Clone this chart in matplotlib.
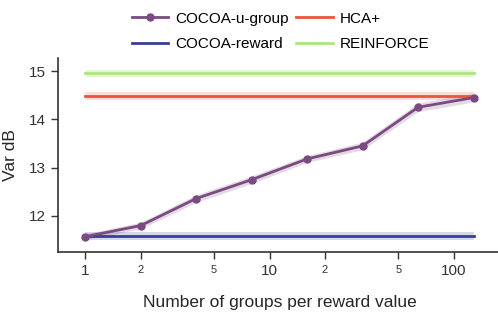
import matplotlib.pyplot as plt
from matplotlib.ticker import FixedFormatter, FixedLocator

plt.rcParams['font.family'] = ['Liberation Sans', 'DejaVu Sans']

groups = [1, 2, 4, 8, 16, 32, 64, 128]
u_group = [11.57, 11.80, 12.36, 12.75, 13.18, 13.45, 14.25, 14.45]
u_group_err = [0.06, 0.07, 0.08, 0.08, 0.07, 0.08, 0.09, 0.09]
reward_var = 11.58
reward_err = 0.08
hca_var = 14.48
hca_err = 0.08
reinforce_var = 14.95
reinforce_err = 0.07

c_ugroup = "#7b4a80"
c_reward = "#383e98"
c_hca = "#e9563b"
c_reinforce = "#aee67e"

fig = plt.figure(figsize=(4.98, 3.12), dpi=100)
ax = fig.add_axes([0.1165, 0.192, 0.89, 0.622])

xs = [groups[0], groups[-1]]
lo = [v - e for v, e in zip(u_group, u_group_err)]
hi = [v + e for v, e in zip(u_group, u_group_err)]
ax.fill_between(groups, lo, hi, color=c_ugroup, alpha=0.2, lw=0)
ax.plot(groups, u_group, color=c_ugroup, lw=2, marker="o", ms=5, label="COCOA-u-group", zorder=5)

for val, err, col, name, a in [(reward_var, reward_err, c_reward, "COCOA-reward", 0.2),
                               (hca_var, hca_err, c_hca, "HCA+", 0.2),
                               (reinforce_var, reinforce_err, c_reinforce, "REINFORCE", 0.3)]:
    ax.fill_between(xs, [val - err] * 2, [val + err] * 2, color=col, alpha=a, lw=0)
    ax.plot(xs, [val] * 2, color=col, lw=2, label=name)

ax.set_xscale("log")
ax.set_xlim(0.711, 181)
ax.set_ylim(11.25, 15.27)
ax.set_yticks([12, 13, 14, 15])

ax.xaxis.set_major_locator(FixedLocator([1, 10, 100]))
ax.xaxis.set_major_formatter(FixedFormatter(["1", "10", "100"]))
ax.xaxis.set_minor_locator(FixedLocator([2, 5, 20, 50]))
ax.xaxis.set_minor_formatter(FixedFormatter(["2", "5", "2", "5"]))
ax.tick_params(axis="x", which="minor", labelsize=8, length=5, width=1, color="#333333", labelcolor="#333333", pad=4)
ax.tick_params(axis="both", which="major", labelsize=11, length=5, width=1, color="#333333", labelcolor="#333333")

for s in ["top", "right"]:
    ax.spines[s].set_visible(False)
for s in ["left", "bottom"]:
    ax.spines[s].set_color("#333333")
    ax.spines[s].set_linewidth(1.2)

ax.set_xlabel("Number of groups per reward value", fontsize=12.5, color="#262626", labelpad=12)
ax.set_ylabel("Var dB", fontsize=12.5, color="#262626", labelpad=8)

ax.legend(loc="lower center", bbox_to_anchor=(0.502, 0.964), ncol=2, frameon=False,
          fontsize=11, handlelength=2.4, handletextpad=0.45, columnspacing=0.5,
          labelspacing=0.75)

fig.savefig("out.png", dpi=100)
